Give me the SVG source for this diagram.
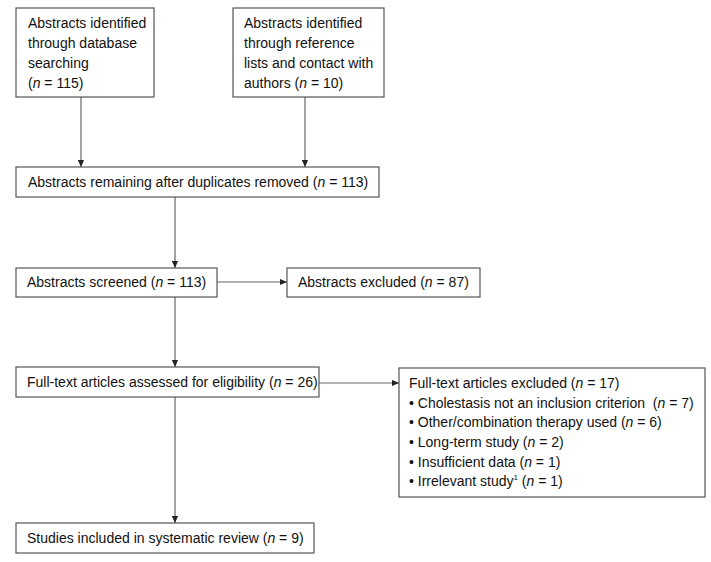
<svg xmlns="http://www.w3.org/2000/svg" width="711" height="562" viewBox="0 0 711 562">
<style>
  .box { fill: #ffffff; stroke: #555555; stroke-width: 1.2; }
  .t { font-family: "Liberation Sans", Arial, sans-serif; font-size: 14px; fill: #111111; }
  .conn { stroke: #666666; stroke-width: 1.2; fill: none; marker-end: url(#arr); }
  .it { font-style: italic; }
</style>
<defs>
  <marker id="arr" viewBox="0 0 8 8" refX="8" refY="4" markerWidth="7" markerHeight="7" markerUnits="userSpaceOnUse" orient="auto">
    <path d="M0,0.5 L8,4 L0,7.5 Z" fill="#222222"/>
  </marker>
</defs>
<rect width="711" height="562" fill="#ffffff"/>

<g id="connectors">
  <line class="conn" x1="81" y1="97" x2="81" y2="167"/>
  <line class="conn" x1="305" y1="97" x2="305" y2="167"/>
  <line class="conn" x1="175" y1="197" x2="175" y2="268"/>
  <line class="conn" x1="217" y1="282" x2="287" y2="282"/>
  <line class="conn" x1="175" y1="297" x2="175" y2="367"/>
  <line class="conn" x1="319" y1="383" x2="399" y2="383"/>
  <line class="conn" x1="175" y1="397" x2="175" y2="523"/>
</g>

<g id="db">
  <rect class="box" x="16" y="8" width="138" height="89"/>
  <text class="t" x="28" y="28">Abstracts identified</text>
  <text class="t" x="28" y="48">through database</text>
  <text class="t" x="28" y="68">searching</text>
  <text class="t" x="28" y="88">(<tspan class="it">n</tspan> = 115)</text>
</g>

<g id="ref">
  <rect class="box" x="233" y="8" width="151" height="89"/>
  <text class="t" x="244" y="28">Abstracts identified</text>
  <text class="t" x="244" y="48">through reference</text>
  <text class="t" x="244" y="68">lists and contact with</text>
  <text class="t" x="244" y="88">authors (<tspan class="it">n</tspan> = 10)</text>
</g>

<g id="dedup">
  <rect class="box" x="16" y="167" width="363" height="30"/>
  <text class="t" x="28" y="187">Abstracts remaining after duplicates removed (<tspan class="it">n</tspan> = 113)</text>
</g>

<g id="screened">
  <rect class="box" x="16" y="268" width="201" height="29"/>
  <text class="t" x="27" y="287">Abstracts screened (<tspan class="it">n</tspan> = 113)</text>
</g>

<g id="abs-excluded">
  <rect class="box" x="287" y="268" width="193" height="29"/>
  <text class="t" x="298" y="287">Abstracts excluded (<tspan class="it">n</tspan> = 87)</text>
</g>

<g id="fulltext">
  <rect class="box" x="16" y="367" width="303" height="30"/>
  <text class="t" x="27" y="387">Full-text articles assessed for eligibility (<tspan class="it">n</tspan> = 26)</text>
</g>

<g id="ft-excluded">
  <rect class="box" x="399" y="368" width="306" height="129"/>
  <text class="t" x="409" y="388">Full-text articles excluded (<tspan class="it">n</tspan> = 17)</text>
  <text class="t" x="409" y="408">• Cholestasis not an inclusion criterion &#160;(<tspan class="it">n</tspan> = 7)</text>
  <text class="t" x="409" y="427">• Other/combination therapy used (<tspan class="it">n</tspan> = 6)</text>
  <text class="t" x="409" y="447">• Long-term study (<tspan class="it">n</tspan> = 2)</text>
  <text class="t" x="409" y="467">• Insufficient data (<tspan class="it">n</tspan> = 1)</text>
  <text class="t" x="409" y="486">• Irrelevant study<tspan font-size="8" dy="-6">1</tspan><tspan dy="6"> (</tspan><tspan class="it">n</tspan> = 1)</text>
</g>

<g id="included">
  <rect class="box" x="16" y="523" width="298" height="30"/>
  <text class="t" x="27" y="543">Studies included in systematic review (<tspan class="it">n</tspan> = 9)</text>
</g>
</svg>
